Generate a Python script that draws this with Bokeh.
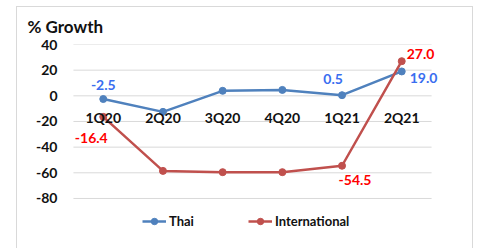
from bokeh.plotting import figure
from bokeh.models import Range1d, FactorRange, FixedTicker, Legend, LegendItem, Label
from bokeh.embed import file_html
from bokeh.resources import INLINE

# ---- data ----
quarters = ["1Q20", "2Q20", "3Q20", "4Q20", "1Q21", "2Q21"]
thai = [-2.5, -12.5, 3.9, 4.6, 0.5, 19.0]
intl = [-16.4, -58.5, -59.5, -59.5, -54.5, 27.0]
y_ticks = [40, 20, 0, -20, -40, -60, -80]
thai_labeled = [0, 4, 5]      # indices of labelled Thai points
intl_labeled = [0, 4, 5]      # indices of labelled International points
title_text = "% Growth"

# ---- styles ----
FONT = "Lato"
THAI_LINE = "#4F81BD"
INTL_LINE = "#C0504D"
THAI_TEXT = "#3A6EF0"
INTL_TEXT = "#FF0000"
BORDER = "#D9D9D9"
GRID = "#D9D9D9"

x_range = FactorRange(factors=quarters, range_padding=0.25, range_padding_units="absolute")
p = figure(width=481, height=248, x_range=x_range, y_range=Range1d(-111.2, 40),
           output_backend="svg", toolbar_location=None,
           min_border_left=58, min_border_right=35, min_border_top=44, min_border_bottom=10)
p.outline_line_color = None
p.background_fill_color = None
p.border_fill_color = None
solid = f"linear-gradient({BORDER}, {BORDER})"
p.styles = {
    "background-color": "white",
    "background-image": f"{solid}, {solid}, {solid}",
    "background-size": "1px 242px, 1px 242px, 457px 1px",
    "background-position": "16px 6px, 472px 6px, 16px 6px",
    "background-repeat": "no-repeat",
}

p.title.text = title_text
p.title.align = "left"
p.title.offset = -31
p.title.text_font = FONT
p.title.text_font_size = "17px"
p.title.text_font_style = "bold"
p.title.text_color = "#111111"
p.title.standoff = 15

# axes
p.yaxis.ticker = FixedTicker(ticks=y_ticks)
p.yaxis.major_label_overrides = {t: str(t) for t in y_ticks}
p.ygrid.grid_line_color = None
p.xgrid.grid_line_color = None
for ax in (p.xaxis, p.yaxis):
    ax.axis_line_color = None
    ax.major_tick_line_color = None
    ax.minor_tick_line_color = None
    ax.major_tick_out = 0
    ax.major_tick_in = 0
    ax.major_label_text_font = FONT
    ax.major_label_text_font_style = "bold"
    ax.major_label_text_color = "#111111"
p.yaxis.major_label_text_font_size = "14px"
p.yaxis.major_label_standoff = 1
p.xaxis.major_label_text_font_size = "14px"
p.xaxis.fixed_location = 0
p.xaxis.major_label_standoff = 13

# horizontal gridlines spanning exactly the category band
n = len(y_ticks)
p.segment(x0=[(quarters[0], -0.5)] * n, x1=[(quarters[-1], 0.5)] * n,
          y0=y_ticks, y1=y_ticks, line_color=GRID, line_width=1)

# series
tl = p.line(quarters, thai, line_color=THAI_LINE, line_width=2.5)
tc = p.scatter(quarters, thai, size=7, fill_color=THAI_LINE, line_color=THAI_LINE)
il = p.line(quarters, intl, line_color=INTL_LINE, line_width=2.5)
ic = p.scatter(quarters, intl, size=7, fill_color=INTL_LINE, line_color=INTL_LINE)

def add_label(xs, ys, i, color, dx, dy, align):
    # categorical factor i sits at synthetic coordinate i + 0.5 on the FactorRange
    p.add_layout(Label(x=xs.index(xs[i]) + 0.5, y=ys[i], text=f"{ys[i]:.1f}",
                       x_offset=dx, y_offset=dy,
                       text_align=align, text_baseline="middle", text_color=color,
                       text_font=FONT, text_font_style="bold", text_font_size="14px"))

thai_offsets = {0: (0, 14, "center"), 4: (-9, 16, "center"), 5: (8, -7, "left")}
intl_offsets = {0: (-12, -21, "center"), 4: (13, -14, "center"), 5: (5, 7, "left")}
for i in thai_labeled:
    dx, dy, al = thai_offsets[i]
    add_label(quarters, thai, i, THAI_TEXT, dx, dy, al)
for i in intl_labeled:
    dx, dy, al = intl_offsets[i]
    add_label(quarters, intl, i, INTL_TEXT, dx, dy, al)

legend = Legend(items=[LegendItem(label="Thai", renderers=[tl, tc]),
                       LegendItem(label="International", renderers=[il, ic])],
                location=(84, 9), orientation="horizontal",
                glyph_width=24, glyph_height=16, label_height=16,
                label_standoff=3, spacing=54, padding=0, margin=0,
                border_line_color=None, background_fill_alpha=0,
                label_text_font=FONT, label_text_font_size="13px",
                label_text_font_style="bold", label_text_color="#111111")
p.add_layout(legend, "center")

open("out.html", "w").write(file_html(p, INLINE))
